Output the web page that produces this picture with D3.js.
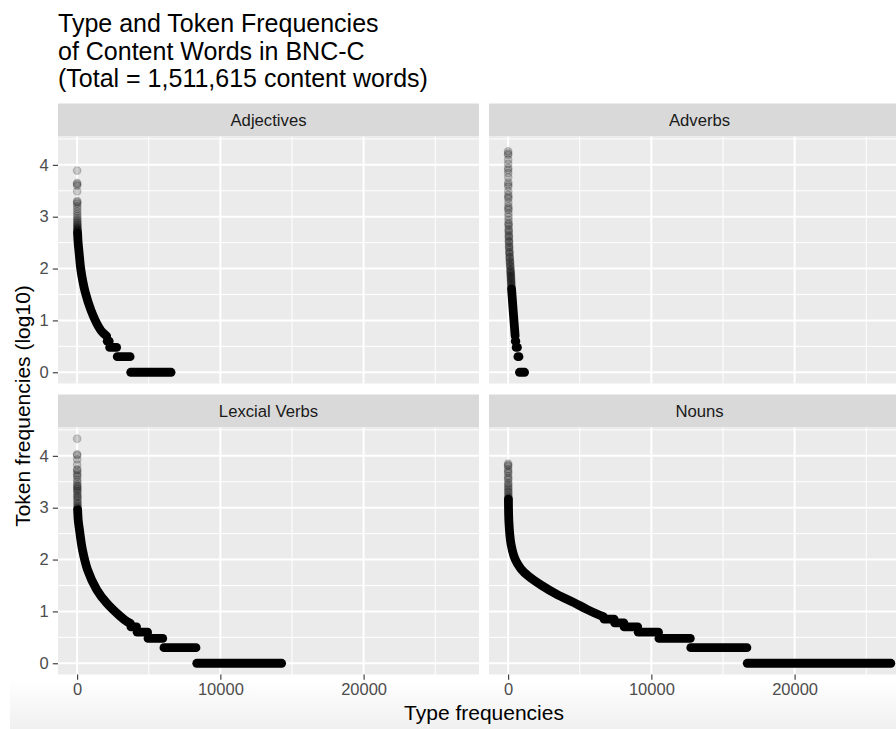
<!DOCTYPE html>
<html>
<head>
<meta charset="utf-8">
<script src="https://d3js.org/d3.v7.min.js"></script>
<style>
	body { margin: 0; background: #ffffff; }
	text { font-family: "Liberation Sans", Arial, Helvetica, sans-serif; }
</style>
</head>
<body>
<div id="plot"></div>
<script>
const categories = ["Adjectives", "Adverbs", "Lexcial Verbs", "Nouns"];

// sparse high-frequency types, drawn as faint points: [rank, log10 token freq]
const adjHead = [[1, 3.89], [2, 3.65], [3, 3.63], [4, 3.6], [5, 3.49], [6, 3.3], [7, 3.28], [8, 3.25], [9, 3.2], [10, 3.15], [11, 3.1], [12, 3.05], [13, 3.01], [14, 2.97], [15, 2.94], [16, 2.91], [17, 2.88], [18, 2.86], [19, 2.84], [20, 2.82], [21, 2.8], [22, 2.78], [23, 2.77], [24, 2.75], [25, 2.74], [26, 2.73], [28, 2.72], [30, 2.71], [31, 2.7], [32, 2.69]];
const advHead = [[1, 4.26], [2, 4.22], [3, 4.19], [4, 4.1], [5, 4.02], [6, 3.94], [7, 3.9], [8, 3.84], [9, 3.76], [10, 3.66], [11, 3.62], [12, 3.58], [13, 3.49], [14, 3.42], [15, 3.38], [16, 3.35], [17, 3.27], [18, 3.2], [19, 3.16], [21, 3.13], [23, 3.06], [25, 3.0], [27, 2.94], [30, 2.88], [32, 2.85], [34, 2.82], [38, 2.76], [40, 2.73], [42, 2.7], [47, 2.65], [50, 2.62], [52, 2.6], [57, 2.55], [60, 2.52], [63, 2.5], [69, 2.45], [72, 2.42], [76, 2.4], [83, 2.36], [90, 2.32], [94, 2.3], [98, 2.28], [106, 2.23], [110, 2.21], [115, 2.19], [124, 2.15], [128, 2.13], [133, 2.11], [143, 2.07], [148, 2.05], [153, 2.03], [163, 1.99], [168, 1.97], [172, 1.95], [176, 1.93], [180, 1.91], [184, 1.89], [188, 1.87], [192, 1.85], [196, 1.83], [200, 1.81], [204, 1.79], [208, 1.77], [212, 1.75], [215, 1.73], [218, 1.71], [222, 1.69], [226, 1.67], [230, 1.65], [234, 1.63]];
const verbHead = [[1, 4.33], [2, 4.03], [3, 4.01], [4, 3.93], [5, 3.83], [6, 3.74], [7, 3.72], [8, 3.67], [9, 3.63], [10, 3.6], [11, 3.54], [12, 3.5], [13, 3.45], [14, 3.42], [15, 3.4], [16, 3.37], [17, 3.35], [18, 3.32], [19, 3.29], [20, 3.25], [21, 3.22], [22, 3.2], [24, 3.16], [25, 3.13], [27, 3.09], [28, 3.07], [30, 3.03], [31, 3.01], [33, 2.99], [34, 2.98]];
const nounHead = [[1, 3.85], [2, 3.82], [3, 3.8], [4, 3.74], [5, 3.7], [6, 3.67], [7, 3.61], [8, 3.57], [9, 3.54], [10, 3.48], [11, 3.45], [12, 3.41], [13, 3.38], [14, 3.35], [15, 3.31], [16, 3.29], [17, 3.25], [18, 3.22], [19, 3.2], [20, 3.18], [21, 3.17]];

// dense part of the rank/frequency curve: [rank, log10 token freq]
const adjCurve = [[32, 2.68], [70, 2.5], [140, 2.3], [250, 2.0], [400, 1.75], [560, 1.55], [960, 1.2], [1490, 0.88], [1800, 0.76], [2060, 0.7]];
const advCurve = [[238, 1.61], [270, 1.5], [330, 1.27], [420, 0.95], [490, 0.7]];
const verbCurve = [[36, 2.96], [80, 2.75], [160, 2.58], [370, 2.19], [720, 1.81], [1370, 1.42], [2070, 1.16], [3000, 0.91], [3500, 0.8], [3720, 0.77]];
const nounCurve = [[22, 3.16], [60, 2.7], [200, 2.3], [500, 2.0], [900, 1.82], [1420, 1.68], [2350, 1.5], [3400, 1.33], [4600, 1.17], [5500, 1.04], [6200, 0.95], [6650, 0.9]];

// low-frequency plateaus: [log10 token freq, first rank, last rank]
const adjSteps = [[0.6, 2100, 2240], [0.48, 2270, 2760], [0.3, 2800, 3700], [0, 3740, 6560]];
const advSteps = [[0.6, 500, 540], [0.48, 560, 650], [0.3, 680, 760], [0, 790, 1150]];
const verbSteps = [[0.7, 3760, 4150], [0.6, 4190, 4920], [0.48, 4950, 5980], [0.3, 6060, 8300], [0, 8350, 14280]];
const nounSteps = [[0.85, 6700, 7400], [0.78, 7430, 8080], [0.7, 8100, 9050], [0.6, 9080, 10500], [0.48, 10530, 12720], [0.3, 12750, 16670], [0, 16690, 26720]];

const xMajor = [0, 10000, 20000];
const xMinor = [5000, 15000, 25000];
const yMajor = [0, 1, 2, 3, 4];
const yMinor = [0.5, 1.5, 2.5, 3.5, 4.5];

const titleLines = [
	"Type and Token Frequencies",
	"of Content Words in BNC-C",
	"(Total = 1,511,615 content words)",
];
const xTitle = "Type frequencies";
const yTitle = "Token frequencies (log10)";

const heads = [adjHead, advHead, verbHead, nounHead];
const curves = [adjCurve, advCurve, verbCurve, nounCurve];
const steps = [adjSteps, advSteps, verbSteps, nounSteps];

const W = 896, H = 729;
const panelLeft = [58, 489],
	stripTop = [103.5, 394.5],
	panelW = 421,
	panelH = 247,
	stripH = 33,
	pointR = 4.4;

const svg = d3
	.select("#plot")
	.append("svg")
	.attr("width", W)
	.attr("height", H);

svg.append("rect").attr("width", W).attr("height", H).attr("fill", "#ffffff");

// scales shared by all facets (ggplot default 5% expansion)
let allX = [], allY = [];
for (let i = 0; i < 4; i++) {
	heads[i].forEach((d) => { allX.push(d[0]); allY.push(d[1]); });
	curves[i].forEach((d) => { allX.push(d[0]); allY.push(d[1]); });
	steps[i].forEach((d) => { allX.push(d[1], d[2]); allY.push(d[0]); });
}
const xr = d3.extent(allX), yr = d3.extent(allY);
const xPad = (xr[1] - xr[0]) * 0.05, yPad = (yr[1] - yr[0]) * 0.05;

const x = d3
	.scaleLinear()
	.domain([xr[0] - xPad, xr[1] + xPad])
	.range([0, panelW]);

const y = d3
	.scaleLinear()
	.domain([yr[0] - yPad, yr[1] + yPad])
	.range([panelH, 0]);

const line = d3
	.line()
	.x((d) => x(d[0]))
	.y((d) => y(d[1]))
	.curve(d3.curveCatmullRom.alpha(0.5));

function draw_panel(i) {
	const col = i % 2, row = Math.floor(i / 2);
	const g = svg
		.append("g")
		.attr("transform", `translate(${panelLeft[col]},${stripTop[row]})`);

	// strip
	g.append("rect")
		.attr("width", panelW)
		.attr("height", stripH)
		.attr("fill", "#d9d9d9");
	g.append("text")
		.attr("x", panelW / 2)
		.attr("y", stripH / 2 + 6)
		.attr("text-anchor", "middle")
		.style("font-size", "16.7px")
		.style("fill", "#1a1a1a")
		.text(categories[i]);

	const p = g.append("g").attr("transform", `translate(0,${stripH})`);

	p.append("rect")
		.attr("width", panelW)
		.attr("height", panelH)
		.attr("fill", "#ebebeb");

	// grid
	p.selectAll(".xminor").data(xMinor).enter().append("line")
		.attr("x1", (d) => x(d)).attr("x2", (d) => x(d))
		.attr("y1", 0).attr("y2", panelH)
		.attr("stroke", "#ffffff").attr("stroke-width", 1);
	p.selectAll(".yminor").data(yMinor).enter().append("line")
		.attr("y1", (d) => y(d)).attr("y2", (d) => y(d))
		.attr("x1", 0).attr("x2", panelW)
		.attr("stroke", "#ffffff").attr("stroke-width", 1);
	p.selectAll(".xmajor").data(xMajor).enter().append("line")
		.attr("x1", (d) => x(d)).attr("x2", (d) => x(d))
		.attr("y1", 0).attr("y2", panelH)
		.attr("stroke", "#ffffff").attr("stroke-width", 2);
	p.selectAll(".ymajor").data(yMajor).enter().append("line")
		.attr("y1", (d) => y(d)).attr("y2", (d) => y(d))
		.attr("x1", 0).attr("x2", panelW)
		.attr("stroke", "#ffffff").attr("stroke-width", 2);

	// plateaus
	p.selectAll(".step").data(steps[i]).enter().append("line")
		.attr("x1", (d) => x(d[1]))
		.attr("x2", (d) => x(d[2]))
		.attr("y1", (d) => y(d[0]))
		.attr("y2", (d) => y(d[0]))
		.attr("stroke", "#000")
		.attr("stroke-width", pointR * 2)
		.attr("stroke-linecap", "round");

	// dense curve
	p.append("path")
		.datum(curves[i])
		.attr("d", line)
		.attr("fill", "none")
		.attr("stroke", "#000")
		.attr("stroke-width", pointR * 2)
		.attr("stroke-linecap", "round")
		.attr("stroke-linejoin", "round");

	// faint top points
	p.selectAll(".head").data(heads[i]).enter().append("circle")
		.attr("cx", (d) => x(d[0]))
		.attr("cy", (d) => y(d[1]))
		.attr("r", pointR - 0.6)
		.attr("fill", "#000")
		.attr("fill-opacity", 0.18)
		.attr("stroke", "#000")
		.attr("stroke-opacity", 0.18)
		.attr("stroke-width", 1.2);

	// axes
	if (col === 0) {
		const ay = p.append("g")
			.call(d3.axisLeft(y).tickValues(yMajor).tickSize(5.2).tickPadding(4.2).tickFormat(d3.format("d")));
		style_axis(ay);
	}
	if (row === 1) {
		const ax = p.append("g")
			.attr("transform", `translate(0,${panelH})`)
			.call(d3.axisBottom(x).tickValues(xMajor).tickSize(5.2).tickPadding(4).tickFormat(d3.format("d")));
		style_axis(ax);
	}
}

function style_axis(a) {
	a.select(".domain").remove();
	a.selectAll(".tick line").attr("stroke", "#333333").attr("stroke-width", 1.1);
	a.selectAll(".tick text")
		.style("font-size", "16.5px")
		.style("fill", "#4d4d4d")
		.style("font-family", '"Liberation Sans", Arial, sans-serif');
}

for (let i = 0; i < 4; i++) draw_panel(i);

// title
svg.selectAll(".title").data(titleLines).enter().append("text")
	.attr("x", 58)
	.attr("y", (d, i) => 31.7 + i * 27.8)
	.style("font-size", "25px")
	.style("fill", "#000")
	.text((d) => d);

// axis titles
svg.append("text")
	.attr("x", 484)
	.attr("y", 720)
	.attr("text-anchor", "middle")
	.style("font-size", "21px")
	.style("fill", "#000")
	.text(xTitle);

svg.append("text")
	.attr("transform", "translate(30,406) rotate(-90)")
	.attr("text-anchor", "middle")
	.style("font-size", "21px")
	.style("fill", "#000")
	.text(yTitle);

// soft shading at the bottom of the capture
const defs = svg.append("defs");
const shade = defs.append("linearGradient")
	.attr("id", "bottom-shade")
	.attr("x1", 0).attr("x2", 0).attr("y1", 0).attr("y2", 1);
shade.append("stop").attr("offset", "0%").attr("stop-color", "#000").attr("stop-opacity", 0);
shade.append("stop").attr("offset", "100%").attr("stop-color", "#000").attr("stop-opacity", 0.06);
svg.insert("rect", "g")
	.attr("x", 10)
	.attr("y", 680)
	.attr("width", W - 10)
	.attr("height", H - 680)
	.attr("fill", "url(#bottom-shade)");
</script>
</body>
</html>
